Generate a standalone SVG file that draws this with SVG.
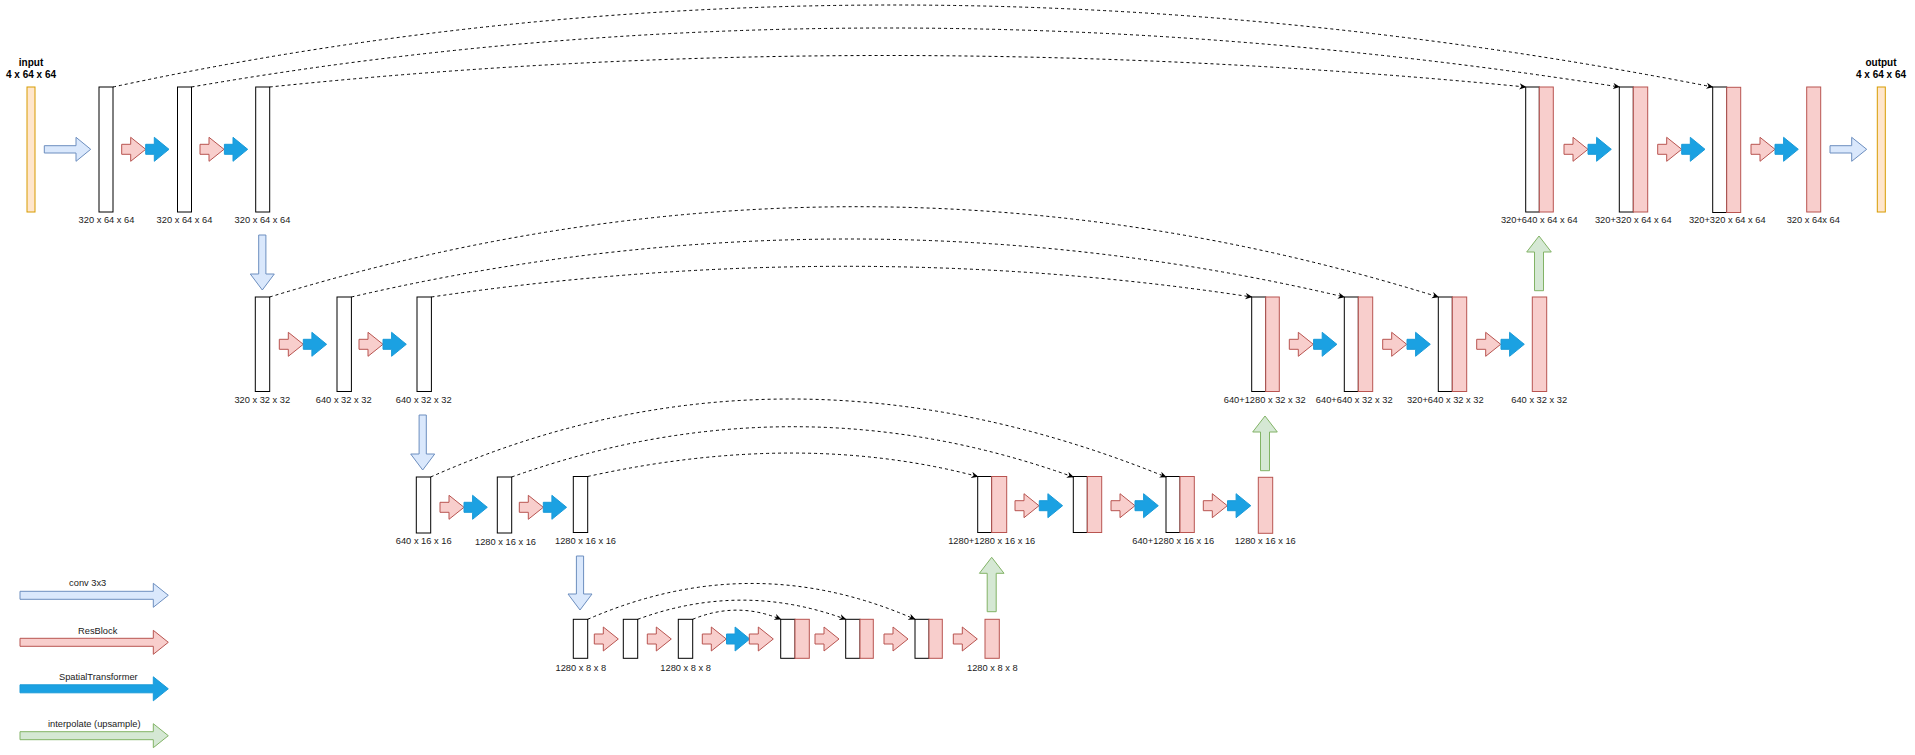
<svg xmlns="http://www.w3.org/2000/svg" width="1915" height="755" viewBox="0 0 1915 755">
<style>
.blk{fill:#ffffff;stroke:#000000;stroke-width:1}
.rb{fill:#f8cecc;stroke:#b85450;stroke-width:1}
.io{fill:#ffe6cc;stroke:#d79b00;stroke-width:1}
.conv{fill:#dae8fc;stroke:#6c8ebf;stroke-width:1}
.res{fill:#f8cecc;stroke:#b85450;stroke-width:1}
.st{fill:#1ba1e2;stroke:#1a9ad8;stroke-width:1}
.up{fill:#d5e8d4;stroke:#82b366;stroke-width:1}
.skip{fill:none;stroke:#000000;stroke-width:1;stroke-dasharray:3 3;marker-end:url(#ah)}
text{font-family:"Liberation Sans",Arial,Helvetica,sans-serif;text-anchor:middle;fill:#1a1a1a}
.lbl{font-size:9.3px}
.ttl{font-size:10px;font-weight:bold;fill:#000000}
</style>
<defs>
<marker id="ah" viewBox="0 0 10 10" refX="9" refY="5" markerWidth="7" markerHeight="7" orient="auto" markerUnits="userSpaceOnUse"><path d="M0,0.5 L10,5 L0,9.5 L3,5 Z" fill="#000000"/></marker>
<path id="pa" class="res" d="M0,-5 H9 V-12 L24,0 L9,12 V5 H0 Z"/>
<path id="ba" class="st" d="M0,-5 H8.6 V-12 L23.3,0 L8.6,12 V5 H0 Z"/>
</defs>

<!-- Level 1 -->
<g id="input"><rect class="io" x="27" y="87" width="8" height="125"/><text class="ttl" x="31" y="66">input</text><text class="ttl" x="31" y="78">4 x 64 x 64</text></g>
<g id="e1"><rect class="blk" x="99" y="87" width="14" height="125"/><text class="lbl" x="106.5" y="222.5">320 x 64 x 64</text></g>
<g id="e2"><rect class="blk" x="177.5" y="87" width="14" height="125"/><text class="lbl" x="184.5" y="222.5">320 x 64 x 64</text></g>
<g id="e3"><rect class="blk" x="255.7" y="87" width="14" height="125"/><text class="lbl" x="262.5" y="222.5">320 x 64 x 64</text></g>
<g id="d1a"><rect class="blk" x="1525.7" y="87" width="13.6" height="125"/><rect class="rb" x="1539.3" y="87" width="14" height="125"/><text class="lbl" x="1539.3" y="223.4">320+640 x 64 x 64</text></g>
<g id="d1b"><rect class="blk" x="1619.3" y="87" width="14" height="125"/><rect class="rb" x="1633.3" y="87" width="14.4" height="125"/><text class="lbl" x="1633.3" y="223.4">320+320 x 64 x 64</text></g>
<g id="d1c"><rect class="blk" x="1712.7" y="87" width="14" height="125.5"/><rect class="rb" x="1726.7" y="87.3" width="14" height="125.2"/><text class="lbl" x="1727.3" y="223.4">320+320 x 64 x 64</text></g>
<g id="d1d"><rect class="rb" x="1806.7" y="87" width="14" height="125"/><text class="lbl" x="1813.3" y="223.4">320 x 64x 64</text></g>
<g id="output"><rect class="io" x="1877.3" y="87" width="8" height="125"/><text class="ttl" x="1881" y="66">output</text><text class="ttl" x="1881" y="78">4 x 64 x 64</text></g>

<!-- Level 2 -->
<g id="e4"><rect class="blk" x="255.3" y="297" width="14.4" height="94.5"/><text class="lbl" x="262.3" y="402.7">320 x 32 x 32</text></g>
<g id="e5"><rect class="blk" x="337" y="297" width="14.4" height="94.5"/><text class="lbl" x="343.7" y="402.7">640 x 32 x 32</text></g>
<g id="e6"><rect class="blk" x="417" y="297" width="14.4" height="94.5"/><text class="lbl" x="423.7" y="402.7">640 x 32 x 32</text></g>
<g id="d2a"><rect class="blk" x="1251.7" y="297" width="14" height="94.5"/><rect class="rb" x="1265.7" y="297" width="13.6" height="94.5"/><text class="lbl" x="1264.7" y="403.4">640+1280 x 32 x 32</text></g>
<g id="d2b"><rect class="blk" x="1344.3" y="297" width="14" height="94.5"/><rect class="rb" x="1358.3" y="297" width="14.4" height="94.5"/><text class="lbl" x="1354.2" y="403.4">640+640 x 32 x 32</text></g>
<g id="d2c"><rect class="blk" x="1438.3" y="297" width="14" height="94.5"/><rect class="rb" x="1452.3" y="297" width="14.4" height="94.5"/><text class="lbl" x="1445.3" y="403.4">320+640 x 32 x 32</text></g>
<g id="d2d"><rect class="rb" x="1532.3" y="297" width="14.4" height="94.5"/><text class="lbl" x="1539.2" y="403.4">640 x 32 x 32</text></g>

<!-- Level 3 -->
<g id="e7"><rect class="blk" x="416.3" y="477" width="14.4" height="56"/><text class="lbl" x="423.7" y="544">640 x 16 x 16</text></g>
<g id="e8"><rect class="blk" x="497.3" y="477" width="14.4" height="56"/><text class="lbl" x="505.5" y="545">1280 x 16 x 16</text></g>
<g id="e9"><rect class="blk" x="573.3" y="476.5" width="14.4" height="56"/><text class="lbl" x="585.5" y="543.7">1280 x 16 x 16</text></g>
<g id="d3a"><rect class="blk" x="977.7" y="476.5" width="14" height="56"/><rect class="rb" x="991.7" y="476.5" width="15" height="56"/><text class="lbl" x="991.7" y="544">1280+1280 x 16 x 16</text></g>
<g id="d3b"><rect class="blk" x="1073.3" y="476.5" width="14" height="56"/><rect class="rb" x="1087.3" y="476.5" width="14.4" height="56"/></g>
<g id="d3c"><rect class="blk" x="1166" y="476.5" width="14" height="56"/><rect class="rb" x="1180" y="476.5" width="14.3" height="56"/><text class="lbl" x="1173.2" y="544">640+1280 x 16 x 16</text></g>
<g id="d3d"><rect class="rb" x="1258.3" y="477.3" width="14.4" height="56"/><text class="lbl" x="1265.3" y="544">1280 x 16 x 16</text></g>

<!-- Level 4 -->
<g id="m1"><rect class="blk" x="573.3" y="619.3" width="14.4" height="39"/><text class="lbl" x="580.8" y="670.7">1280 x 8 x 8</text></g>
<g id="m2"><rect class="blk" x="623.3" y="619.3" width="14.4" height="39"/></g>
<g id="m3"><rect class="blk" x="678.3" y="619.3" width="14.4" height="39"/><text class="lbl" x="685.7" y="670.7">1280 x 8 x 8</text></g>
<g id="m4"><rect class="blk" x="780.7" y="619.3" width="14.3" height="39"/><rect class="rb" x="795" y="619.3" width="14.3" height="39"/></g>
<g id="m5"><rect class="blk" x="845.7" y="619.3" width="14.3" height="39"/><rect class="rb" x="860" y="619.3" width="13.3" height="39"/></g>
<g id="m6"><rect class="blk" x="915" y="619.3" width="14" height="39"/><rect class="rb" x="929" y="619.3" width="13.3" height="39"/></g>
<g id="m7"><rect class="rb" x="985" y="619.3" width="14.3" height="39"/><text class="lbl" x="992.3" y="670.7">1280 x 8 x 8</text></g>

<!-- flow arrows -->
<g id="flow">
<path class="conv" d="M44.3,145.7 H76 V137.3 L90.7,149.3 L76,161.3 V153 H44.3 Z"/>
<path class="conv" d="M1830,145.7 H1851.7 V137.3 L1866.7,149.3 L1851.7,161.3 V153 H1830 Z"/>
<use href="#pa" x="121.7" y="149.3"/><use href="#ba" x="145.7" y="149.3"/>
<use href="#pa" x="200" y="149.3"/><use href="#ba" x="224.4" y="149.3"/>
<use href="#pa" x="1564" y="149.3"/><use href="#ba" x="1588" y="149.3"/>
<use href="#pa" x="1657.7" y="149.3"/><use href="#ba" x="1681.7" y="149.3"/>
<use href="#pa" x="1751" y="149.3"/><use href="#ba" x="1775" y="149.3"/>

<use href="#pa" x="279.3" y="344.3"/><use href="#ba" x="303.3" y="344.3"/>
<use href="#pa" x="359" y="344.3"/><use href="#ba" x="383" y="344.3"/>
<use href="#pa" x="1289.3" y="344.3"/><use href="#ba" x="1313.6" y="344.3"/>
<use href="#pa" x="1382.7" y="344.3"/><use href="#ba" x="1407" y="344.3"/>
<use href="#pa" x="1476.7" y="344.3"/><use href="#ba" x="1501" y="344.3"/>

<use href="#pa" x="440" y="507.3"/><use href="#ba" x="464" y="507.3"/>
<use href="#pa" x="519.3" y="507.3"/><use href="#ba" x="543.3" y="507.3"/>
<use href="#pa" x="1015" y="505.7"/><use href="#ba" x="1039.3" y="505.7"/>
<use href="#pa" x="1111" y="505.7"/><use href="#ba" x="1135" y="505.7"/>
<use href="#pa" x="1203.3" y="505.7"/><use href="#ba" x="1227.5" y="505.7"/>

<use href="#pa" x="594.3" y="639"/>
<use href="#pa" x="647.3" y="639"/>
<use href="#pa" x="702.3" y="639"/><use href="#ba" x="726.5" y="639"/><use href="#pa" x="749.3" y="639"/>
<use href="#pa" x="815" y="639"/>
<use href="#pa" x="884" y="639"/>
<use href="#pa" x="953.3" y="639"/>

<path class="conv" d="M258.7,235 H265.9 V274 H274.3 L262.3,290 L250.3,274 H258.7 Z"/>
<path class="conv" d="M419.1,415 H426.3 V454 H434.7 L422.7,470 L410.7,454 H419.1 Z"/>
<path class="conv" d="M576.4,556 H583.6 V594 H592 L580,610 L568,594 H576.4 Z"/>

<path class="up" d="M991.7,557.3 L1004,573.3 H996.2 V611.7 H987.2 V573.3 H979.4 Z"/>
<path class="up" d="M1265,416 L1277.3,432 H1269.5 V470.7 H1260.5 V432 H1252.7 Z"/>
<path class="up" d="M1539,236 L1551.3,252 H1543.5 V290.7 H1534.5 V252 H1526.7 Z"/>
</g>

<!-- skip connections -->
<g id="connectors">
<path class="skip" d="M113,87 Q875,-77 1712.7,87"/>
<path class="skip" d="M191.5,87 Q870,-31 1619.3,87"/>
<path class="skip" d="M269.7,87 Q876,24 1525.7,87"/>

<path class="skip" d="M269.7,297 Q860,116.4 1438.3,297"/>
<path class="skip" d="M351.4,297 Q850,181 1344.3,297"/>
<path class="skip" d="M431.4,297 Q850,235.6 1251.7,297"/>

<path class="skip" d="M430.7,477 Q782,321 1166,477"/>
<path class="skip" d="M511.7,477 Q793,376.4 1073.3,477"/>
<path class="skip" d="M587.7,476.5 Q800,429.6 977.7,476.5"/>

<path class="skip" d="M587.7,619.3 Q752,547.6 915,619.3"/>
<path class="skip" d="M637.7,619.3 Q742,581 845.7,619.3"/>
<path class="skip" d="M692.7,619.3 Q737,601 780.7,619.3"/>
</g>

<!-- legend -->
<g id="legend-conv"><path class="conv" d="M20,591.3 H153.3 V583.3 L168.3,595.3 L153.3,607.3 V599.3 H20 Z"/><text class="lbl" x="87.7" y="586">conv 3x3</text></g>
<g id="legend-res"><path class="res" d="M20,638.3 H153.3 V630.3 L168.3,642.3 L153.3,654.3 V646.3 H20 Z"/><text class="lbl" x="97.7" y="633.5">ResBlock</text></g>
<g id="legend-st"><path class="st" d="M20,684.8 H153.3 V676.8 L168.3,688.8 L153.3,700.8 V692.8 H20 Z"/><text class="lbl" x="98.3" y="680">SpatialTransformer</text></g>
<g id="legend-up"><path class="up" d="M20,731.7 H153.3 V723.7 L168.3,735.7 L153.3,747.7 V739.7 H20 Z"/><text class="lbl" x="94.3" y="727">interpolate (upsample)</text></g>
</svg>
